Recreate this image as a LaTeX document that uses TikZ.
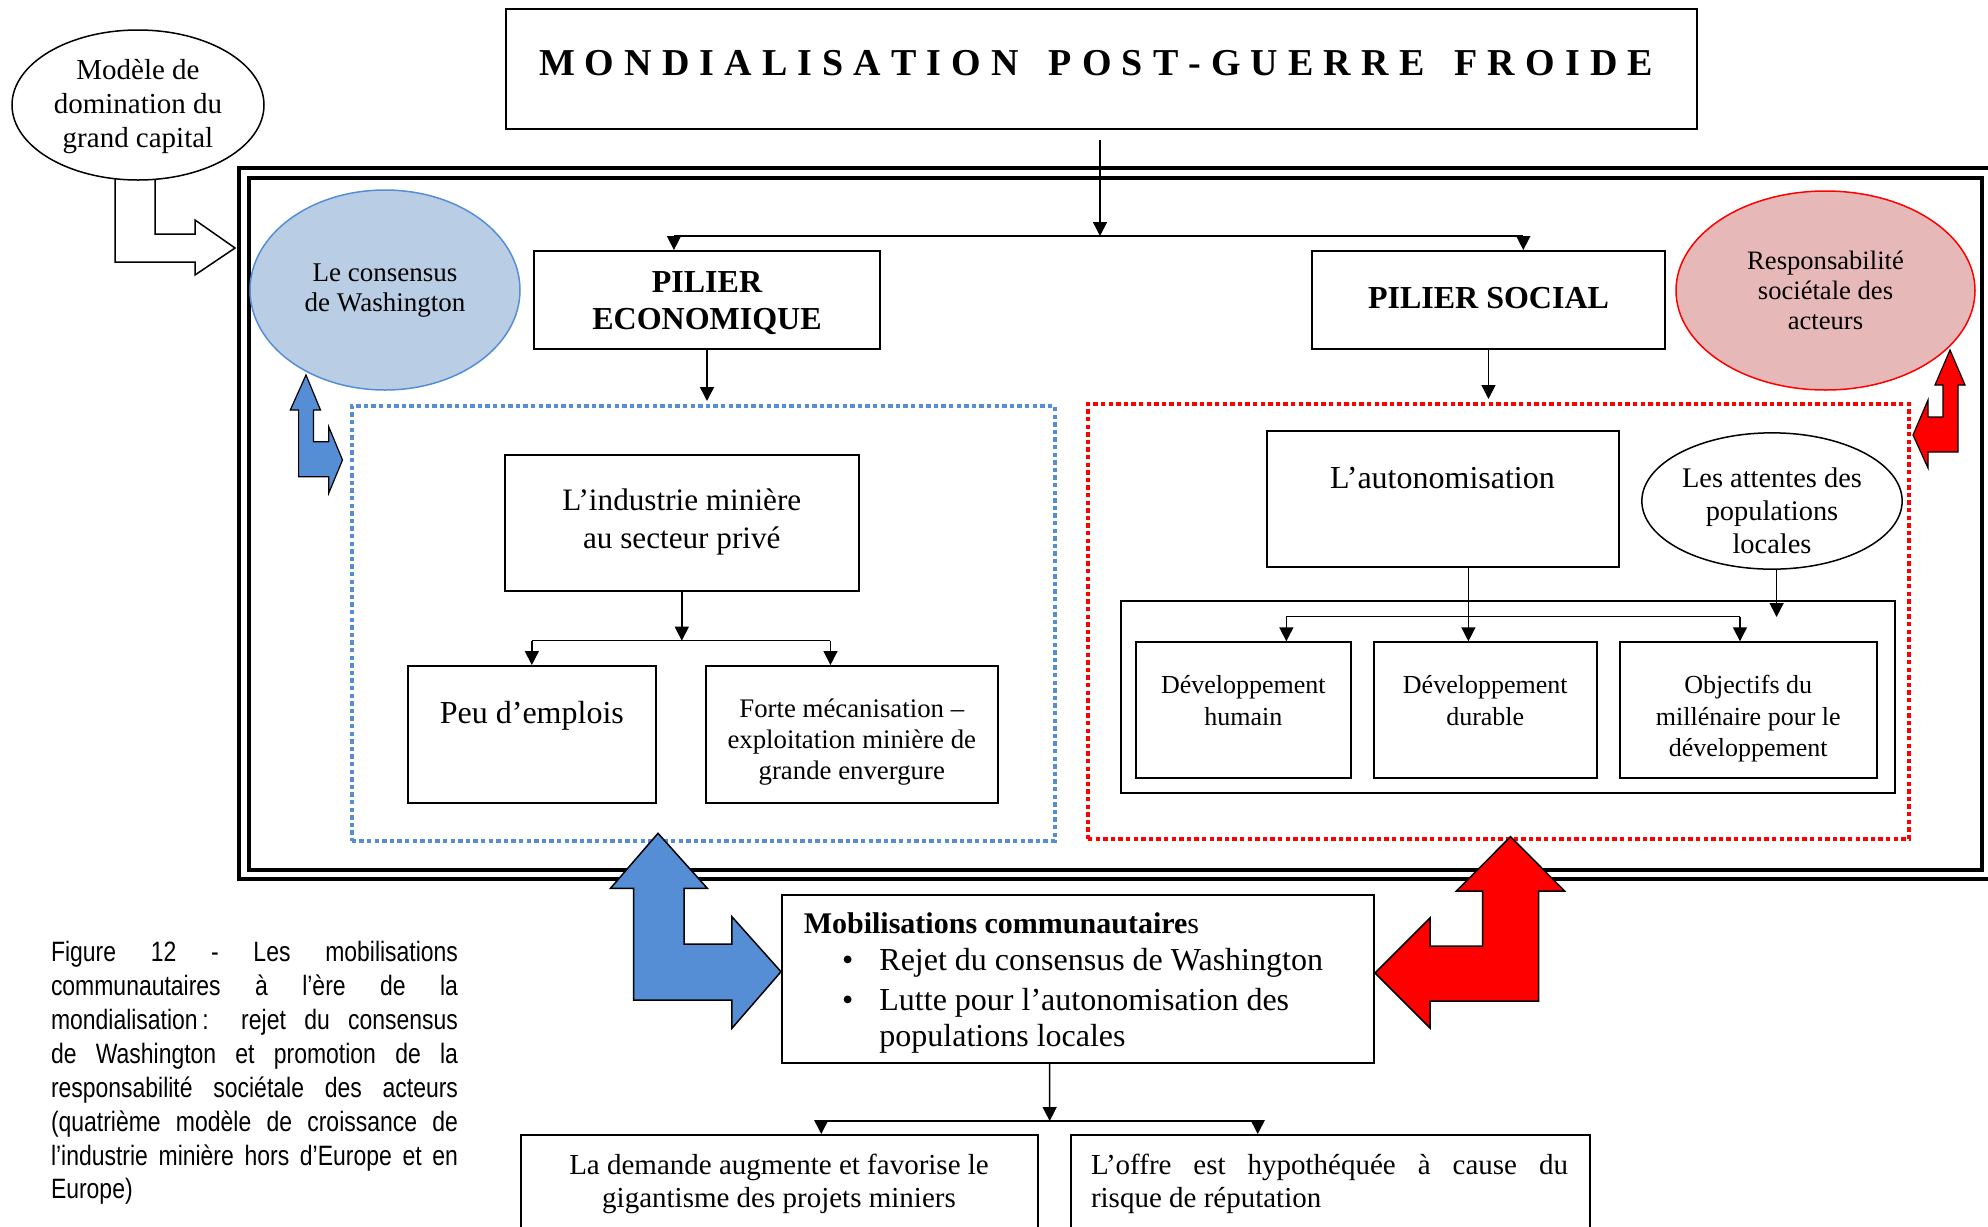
\documentclass[tikz,border=0pt]{standalone}
\usepackage{fontspec}
\setmainfont{Liberation Serif}
\newfontfamily\capfont[FakeStretch=0.82]{Liberation Sans}
\usetikzlibrary{arrows.meta,shapes.geometric,calc}
\newcommand\myfs[2]{\fontsize{#1}{#2}\selectfont}
\definecolor{bluefill}{RGB}{185,205,229}
\definecolor{blueline}{RGB}{85,142,213}
\definecolor{pinkfill}{RGB}{230,185,184}
\definecolor{redc}{RGB}{255,0,0}
\begin{document}
\begin{tikzpicture}[x=0.5pt,y=-0.5pt,
  box/.style={draw,line width=1pt,inner sep=0pt,rectangle},
  conn/.style={line width=0.75pt},
  arr/.style={conn,-{Triangle[length=7pt,width=7pt]}},
  txt/.style={inner sep=0pt,align=center},
  dots/.style={draw,line width=2pt,dash pattern=on 2.2pt off 1.6pt,inner sep=0pt},
  bent/.style={draw=black,line width=0.6pt,line join=miter},
  oval/.style={ellipse,draw,line width=0.75pt,inner sep=0pt},
]
\useasboundingbox (0,0) rectangle (1988,1227);
\clip (0,0) rectangle (1988,1227);

% double frame
\draw[line width=1.75pt] (239,168) rectangle (2000,879);
\draw[line width=1.75pt] (249,178) rectangle (1982,870);

% hollow bent arrow from the top-left ellipse
\draw[line width=0.75pt,fill=white] (155,170) -- (155,234) -- (195,234) -- (195,220) -- (235,248) -- (195,275) -- (195,262) -- (115,262) -- (115,170);
\node[oval,fill=white,minimum width=126pt,minimum height=75pt] (modele) at (138,105) {};
\node[txt,font={\myfs{14.5}{17}}] (modeleT) at (138,106.5) {Modèle de\\domination du\\grand capital};

% title
\node[box,minimum width=595.5pt,minimum height=60pt] (title) at (1101.5,69) {};
\node[inner sep=0pt,font={\myfs{19}{22}\bfseries}] (titleT) at (1096,63) {\makebox[557pt][s]{M\hfill O\hfill N\hfill D\hfill I\hfill A\hfill L\hfill I\hfill S\hfill A\hfill T\hfill I\hfill O\hfill N\hfill\hfill\hfill P\hfill O\hfill S\hfill T\hfill -\hfill G\hfill U\hfill E\hfill R\hfill R\hfill E\hfill\hfill\hfill F\hfill R\hfill O\hfill I\hfill D\hfill E}};

% ellipses
\node[oval,draw=blueline,fill=bluefill,minimum width=135pt,minimum height=100pt] (cons) at (385,290) {};
\node[txt,font={\myfs{13.5}{15}}] (consT) at (385,291) {Le consensus\\de Washington};
\node[oval,draw=redc,fill=pinkfill,minimum width=149.5pt,minimum height=99.5pt] (rse) at (1825.5,290.5) {};
\node[txt,font={\myfs{13.3}{15}}] (rseT) at (1825.5,290.5) {Responsabilité\\sociétale des\\acteurs};

% pillars
\node[box,minimum width=173pt,minimum height=49pt] (eco) at (707,300) {};
\node[txt,font={\myfs{16}{18.5}\bfseries}] (ecoT) at (707,303.5) {PILIER\\ECONOMIQUE};
\node[box,minimum width=176.5pt,minimum height=49pt] (soc) at (1488.5,300) {};
\node[txt,font={\myfs{16}{18.5}\bfseries}] (socT) at (1488.5,298) {PILIER SOCIAL};

\coordinate (t0) at (1100,140);
\coordinate (j1) at (1100,236);
\draw[arr] (t0) -- (j1);
\path ($(eco.north west)!0.405!(eco.north east)$) coordinate (ecoN);
\path ($(soc.north west)!0.598!(soc.north east)$) coordinate (socN);
\draw[conn] (ecoN |- j1) -- (socN |- j1);
\draw[arr] (ecoN |- j1) -- (ecoN);
\draw[arr] (socN |- j1) -- (socN);

% dotted boxes
\node[dots,draw=blueline,minimum width=351.35pt,minimum height=217.5pt] (bluebox) at (703.2,623.5) {};
\node[dots,draw=redc,minimum width=410.5pt,minimum height=217.5pt] (redbox) at (1498.5,621.5) {};
\draw[arr,shorten >=1.5pt] (eco.south) -- (eco.south |- bluebox.north);
\draw[arr,shorten >=1.5pt] (soc.south) -- (soc.south |- redbox.north);

% economic side
\node[box,minimum width=176.8pt,minimum height=68pt] (ind) at (681.8,523) {};
\node[txt,font={\myfs{15.6}{19}}] (indT) at (681.8,522) {L’industrie minière\\au secteur privé};
\node[box,minimum width=124.15pt,minimum height=68.35pt] (peu) at (531.85,734.35) {};
\node[txt,font={\myfs{16}{19}}] (peuT) at (531.85,715.5) {Peu d’emplois};
\node[box,minimum width=146.2pt,minimum height=68.5pt] (forte) at (851.8,734.5) {};
\node[txt,font={\myfs{13.4}{15.5}}] (forteT) at (851.8,742) {Forte mécanisation –\\exploitation minière de\\grande envergure};
\coordinate (j2) at (681.8,640.7);
\draw[arr] (ind.south) -- (j2);
\path ($(forte.north west)!0.4275!(forte.north east)$) coordinate (forteN);
\draw[conn] (peu.north |- j2) -- (forteN |- j2);
\draw[arr] (peu.north |- j2) -- (peu.north);
\draw[arr] (forteN |- j2) -- (forteN);

% social side
\node[box,minimum width=176pt,minimum height=68.15pt] (auto) at (1442.5,498.85) {};
\node[txt,font={\myfs{16}{19}}] (autoT) at (1442.5,478) {L’autonomisation};
\node[oval,minimum width=130.15pt,minimum height=68.15pt] (att) at (1772,501) {};
\node[txt,font={\myfs{14.2}{16.5}}] (attT) at (1772,510.5) {Les attentes des\\populations\\locales};
\node[box,minimum width=387.25pt,minimum height=96.15pt] (cont) at (1507.75,696.85) {};
\coordinate (attE) at (1776.6,617);
\draw[arr] (attE |- att.south) -- (attE);
\node[box,minimum width=107.7pt,minimum height=67.85pt] (dh) at (1243.3,710.15) {};
\node[box,minimum width=111.25pt,minimum height=67.85pt] (dd) at (1485.25,710.15) {};
\node[box,minimum width=128.55pt,minimum height=67.85pt] (om) at (1748.25,710.15) {};
\node[txt,font={\myfs{13}{15.75}}] (dhT) at (1243.3,700.5) {Développement\\humain};
\node[txt,font={\myfs{13}{15.75}}] (ddT) at (1485.25,700.5) {Développement\\durable};
\node[txt,font={\myfs{13}{15.75}}] (omT) at (1748.25,719) {Objectifs du\\millénaire pour le\\développement};
\path ($(dh.north west)!0.698!(dh.north east)$) coordinate (dhN);
\path ($(dd.north west)!0.425!(dd.north east)$) coordinate (ddN);
\path ($(om.north west)!0.468!(om.north east)$) coordinate (omN);
\coordinate (j3) at (1468.5,616.7);
\draw[conn] (dhN |- j3) -- (omN |- j3);
\draw[arr] (dhN |- j3) -- (dhN);
\draw[arr] (omN |- j3) -- (omN);
\draw[arr] (auto.south -| ddN) -- (ddN);

% small bent arrows
\draw[bent,fill=blueline] (306,375) -- (320.5,410) -- (313.4,410) -- (313.4,441.7) -- (328.7,441.7) -- (328.7,426.7) -- (342.5,460) -- (328.7,493.3) -- (328.7,476.7) -- (298.6,476.7) -- (298.6,410) -- (290.3,410) -- cycle;
\draw[bent,fill=redc] (1950,350) -- (1965,385) -- (1958,385) -- (1958,452) -- (1928,452) -- (1928,468) -- (1913,435) -- (1928,400) -- (1928,417) -- (1943,417) -- (1943,385) -- (1935,385) -- cycle;

% mobilisation box
\node[box,minimum width=295.65pt,minimum height=84pt] (mob) at (1078,979) {};
\node[anchor=west,inner sep=0pt,font={\myfs{15}{18}}] (mobT) at (803.4,923) {\textbf{Mobilisations communautaire}s};
\node[inner sep=0pt,font={\myfs{16}{19}}] (mobB1) at (847.6,963) {\textbullet};
\node[anchor=west,inner sep=0pt,font={\myfs{16}{19}}] (mobL1) at (879,963) {Rejet du consensus de Washington};
\node[inner sep=0pt,font={\myfs{16}{19}}] (mobB2) at (847.6,1003) {\textbullet};
\node[anchor=west,inner sep=0pt,font={\myfs{16}{19}}] (mobL2) at (879,1003) {Lutte pour l’autonomisation des};
\node[anchor=west,inner sep=0pt,font={\myfs{16}{19}}] (mobL3) at (879,1039) {populations locales};

% big bent arrows
\draw[bent,line width=0.75pt,fill=blueline] (658,833.3) -- (707.3,888.3) -- (684.2,888.3) -- (684.2,944) -- (731.9,944) -- (731.9,916.7) -- (781,971.7) -- (731.9,1028.3) -- (731.9,1000) -- (633.7,1000) -- (633.7,888.3) -- (610.5,888.3) -- cycle;
\draw[bent,line width=0.75pt,fill=redc] (1510.5,836.7) -- (1564.6,891) -- (1538.6,891) -- (1538.6,1001) -- (1430,1001) -- (1430,1028) -- (1375,973) -- (1430,918) -- (1430,946) -- (1482.5,946) -- (1482.5,891) -- (1456.5,891) -- cycle;

% bottom boxes
\node[box,minimum width=258.7pt,minimum height=60pt] (dem) at (779.7,1195) {};
\node[box,minimum width=259.2pt,minimum height=60pt] (off) at (1330.6,1195) {};
\path ($(mob.south west)!0.452!(mob.south east)$) coordinate (mobS);
\coordinate (j4) at (1049.7,1121);
\draw[arr] (mobS) -- (j4);
\path ($(dem.north west)!0.58!(dem.north east)$) coordinate (demN);
\path ($(off.north west)!0.36!(off.north east)$) coordinate (offN);
\draw[conn] (demN |- j4) -- (offN |- j4);
\draw[arr] (demN |- j4) -- (demN);
\draw[arr] (offN |- j4) -- (offN);
\node[txt,font={\myfs{14.5}{16.65}}] (demT) at (779,1184) {La demande augmente et favorise le\\gigantisme des projets miniers};
\node[inner sep=0pt,align=left,font={\myfs{14.5}{16.65}}] (offT) at (1329.5,1184) {\makebox[238.5pt][s]{L’offre est hypothéquée à cause du}\\\makebox[238.5pt][l]{risque de réputation}};

% caption
\node[inner sep=0pt,align=left,font={\capfont\myfs{14}{16.95}}] (cap) at (254.5,1073) {%
\makebox[203.5pt][s]{Figure 12 - Les mobilisations}\\
\makebox[203.5pt][s]{communautaires à l’ère de la}\\
\makebox[203.5pt][s]{mondialisation\,: rejet du consensus}\\
\makebox[203.5pt][s]{de Washington et promotion de la}\\
\makebox[203.5pt][s]{responsabilité sociétale des acteurs}\\
\makebox[203.5pt][s]{(quatrième modèle de croissance de}\\
\makebox[203.5pt][s]{l’industrie minière hors d’Europe et en}\\
\makebox[203.5pt][l]{Europe)}};
\end{tikzpicture}
\end{document}
